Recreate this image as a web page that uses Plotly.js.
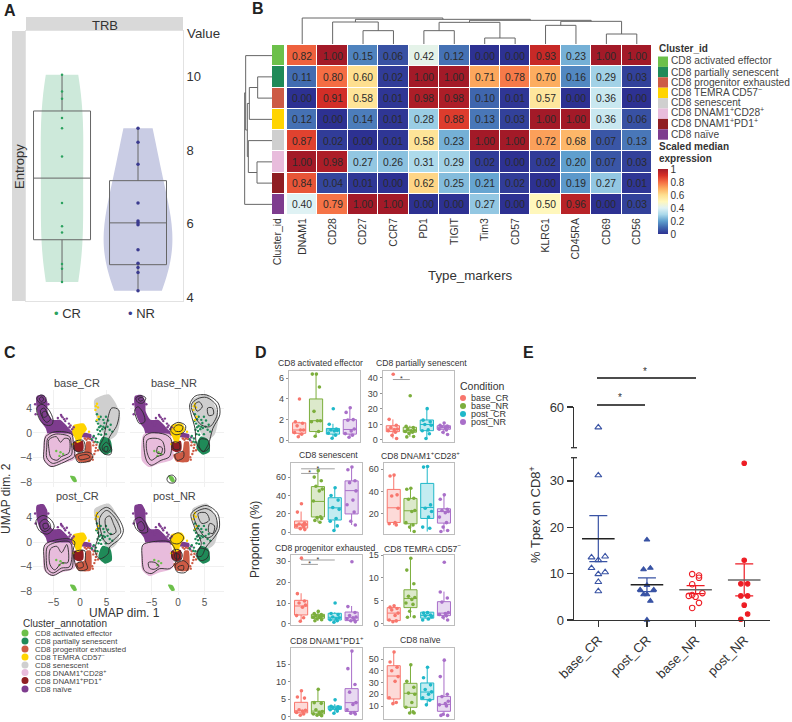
<!DOCTYPE html>
<html><head><meta charset="utf-8">
<script src="https://cdn.plot.ly/plotly-3.0.1.min.js"></script>
<style>html,body{margin:0;padding:0;background:#fff}</style></head>
<body><div id="chart" style="width:792px;height:722px"></div>
<script>
// ---------- DATA ----------
// A
const entropyCR=[10.06,9.6,9.4,8.88,8.6,7.83,6.56,5.93,5.76,4.9,4.77,4.41];
const entropyNR=[8.6,8.22,7.62,6.56,6.07,6.02,5.97,5.29,4.92,4.8,4.67,4.17];
const boxCR=[4.41,5.56,7.24,9.07,10.06];
const boxNR=[4.17,4.88,6.02,7.17,8.6];
// B
const markers=['DNAM1','CD28','CD27','CCR7','PD1','TIGIT','Tim3','CD57','KLRG1','CD45RA','CD69','CD56'];
const clusters=['CD8 activated effector','CD8 partially senescent','CD8 progenitor exhausted','CD8 TEMRA CD57<sup>−</sup>','CD8 senescent','CD8 DNAM1<sup>+</sup>CD28<sup>+</sup>','CD8 DNAM1<sup>+</sup>PD1<sup>+</sup>','CD8 naïve'];
const clusterColors=['#6cc04a','#1f8a58','#cd5b45','#ffd400','#cfcfcf','#e8bcdc','#8f1d22','#7e3c8e'];
const expr=[
[.82,1.00,.15,.06,.42,.12,.00,.00,.93,.23,1.00,1.00],
[.11,.80,.60,.02,1.00,1.00,.71,.78,.70,.16,.29,.03],
[.00,.91,.58,.01,.98,.98,.10,.01,.57,.00,.36,.00],
[.12,.00,.14,.01,.28,.88,.13,.03,1.00,1.00,.36,.06],
[.87,.02,.00,.01,.58,.23,1.00,1.00,.72,.68,.07,.13],
[1.00,.98,.27,.26,.31,.29,.02,.00,.02,.20,.07,.03],
[.84,.04,.01,.00,.62,.25,.21,.02,.00,.19,.27,.01],
[.40,.79,1.00,1.00,.00,.00,.27,.00,.50,.96,.00,.03]];
// merges: [posA,heightA,posB,heightB,topHeight]
const colMerges=[[6,0,7,0,18],[2,0,3,0,40],[1,0,2.5,40,66],[4,0,5,0,40],[4.5,40,6.5,18,65],[8,0,9,0,56],[10,0,11,0,30],[8.5,56,10.5,30,68],[5.5,65,9.5,68,71],[1.75,66,7.5,71,74],[0,0,4.625,74,78]];
const rowMerges=[[1,0,2,0,43],[5,0,6,0,45],[1.5,43,3,0,68],[4,0,5.5,45,71],[2.25,68,4.75,71,74],[0,0,3.5,74,79],[1.75,79,7,0,82]];
// C shared cluster regions, UMAP units
const regionNaive=[-8.2,5.9,-6.9,6.1,-6.2,5.1,-6.1,3.4,-5.2,2.1,-3.8,2.1,-2.7,1.3,-1.7,.4,2.1,-.2,2.1,-.8,-.9,-.5,-3.5,-.1,-6,-.3,-6.5,.75,-7.4,1.8,-8.1,3.4];
const regionPink=[-6.5,-.2,-3.5,-.1,-1.6,-.2,-1,-1.7,-1,-4.2,-3.8,-5,-5.4,-5.5,-6.8,-4.5,-7,-2.5];
const regionGrey=[2.7,5.3,5.4,6.2,6.9,4.5,7.6,2.4,6.9,-.3,5.3,-1.2,3.9,.75,3,2.9];
const regionPartial=[4.3,-.6,5.7,-1.1,6,-3,4.75,-3.5,3.5,-2.5,3.8,-1.2];
const regionProg=[-.9,-3.5,.8,-3,1.2,-1.4,2,-1.4,2.2,-3,2,-4.6,-.3,-4.6];
const regionPD1=[-1.2,-1.5,.5,-1.3,.6,-2.8,-.3,-3.1,-1.2,-2.7];
const regionTemra=[-1.3,1.2,.7,1.5,1.3,.6,.5,-.3,.1,-1.4,-.6,-1.6,-1,-.8,-1.5,.2];
const regionActivated=[-1.9,-6.9,-1,-7,-.6,-7.8,-1.2,-7.9];
const cellsNaive=[-3.5,2.7,-3,2.2,-2.5,2.3,-2.1,1.5,-3.9,1.6,-4.5,1.2,-2,.9,-1.5,.6,-4.8,1.7,2.5,-.7,2.3,-1.2,-3.3,2.5,-2.8,1.9,-3.6,2.9,-1.8,1.2,-4.2,2.4,-8.5,4.6,-8.4,3,-6,4.6,-1.2,.9];
const cellsProg=[1.5,-.9,2.6,-1.5,3.1,-1.9,3.4,-2.8,2.7,-3.4,3,-2.4,2.3,-3.9,1.9,-1,2.5,-2,2.9,-2.9,.9,-.9,2.4,-4.3,1.2,-1.1];
const cellsPartial=[3.2,3,3.6,2.2,4.6,1.6,5.3,2,4.9,2.6,3.3,.5,2.6,-.5,2.2,-1,2.9,-1.4,5.8,1.3,6.1,.2,3.9,1.1,4.4,1,3.4,1.5,3.6,.9,3.8,.3,4.2,.6,4.7,.8,5.2,1,3.5,-.2,3,-.9,3.3,-1.5,4,-.3,4.9,-.2,3.1,1.9,3.9,2.6,5.6,.5,4.4,2.1];
const cellsTemra=[3,4.3,3.4,4.1,2.9,3.7,3.5,2.6,3.2,2.1,-1.3,-1.8,1.7,.2,3.2,4.7];
const cellsActivated=[-3.7,-3.1,-3.2,-3.4,-3.9,-3.7,-4.5,-2.9];
const contoursBaseCR=[
[-8.2,5.6,-7.4,6.1,-6.5,5.7,-6.6,4.95,-7.6,4.8],[-7.7,5.5,-7.2,5.8,-6.9,5.4,-7.3,5],
[-8.2,4,-7.2,4.6,-5.9,3.7,-5.1,2.1,-5.4,1.3,-6.6,1.3,-7.6,2.1],[-7.5,3.6,-6.8,4,-6.1,3,-5.6,2.2,-6.3,1.7,-7,2.3],[-7.2,3.2,-6.5,3.5,-6.2,2.8,-6.9,2.5],
[-6.5,-.6,-4.7,.2,-1.6,-.2,-1.3,-1.4,-1.1,-3.8,-2.3,-4.4,-3.5,-4.9,-5.5,-5.4,-6.8,-4.3,-6.8,-2.5],
[-6.1,-.9,-4.7,-.2,-2,-.6,-1.7,-1.5,-1.6,-3.5,-3,-4.2,-5.2,-4.9,-6.3,-4,-6.3,-2.3],
[-5.9,-1.1,-4.5,-.6,-3.7,-1.5,-3,-.9,-2.1,-1,-2.1,-3.2,-3.5,-3.8,-4.4,-4.4,-5.5,-4,-5.9,-2.5],
[-1.2,-1.5,.6,-1.2,.9,-2.7,-.2,-3.1,-1.2,-2.6],[-.8,-3.6,1.5,-3.1,2.4,-3.6,2,-4.4,-.4,-4.7],[-.3,-3.8,1.3,-3.5,1.9,-3.9,0,-4.3],
[6,4,7.3,3.7,7,1.3,5.4,-1.1,6,-2.7,5.7,-3.5,4.4,-3.3,3.7,-2.2,4.4,-.9,5.1,1.8],[5,-1.5,5.8,-2.5,5.2,-3.1,4.4,-2.9,4.2,-2.2],[4.6,-2.3,5.2,-2.2,5.2,-2.9,4.6,-2.9]];
const contoursBaseNR=[
[-8,5.6,-7,6,-6.1,5.6,-6.7,4.8,-7.6,4.9],[-7.5,5.5,-6.8,5.7,-6.5,5.4,-7.2,5.1],
[-8.2,3.7,-7.6,4.2,-6.6,3.2,-6.3,1.8,-7.3,1.5,-7.9,2.4],
[-6.4,-.6,-5.1,0,-2.3,-.3,-1.3,-1.1,-1.6,-3.8,-3.2,-4.4,-5.1,-5.2,-6,-4.4,-6.5,-1.9],
[-5.8,-1.1,-3.9,-.9,-2.9,-1.4,-2.6,-3.3,-3.9,-3.8,-5.1,-4.4,-5.9,-3],[-3.8,-2.2,-3,-2.4,-3.2,-3.3,-4,-3.2],
[-1.3,1,0,1.7,1.4,1.2,1.2,.2,-.4,-.3,-1.3,.2],[-.8,.8,0,1.3,.9,1,.6,.3,-.5,.3],
[-.9,-1.5,.2,-1.6,.3,-2.6,-.8,-2.6],[-.6,-3.5,1,-3,1,-4,-.2,-4.4],
[2.2,4.5,3.2,5.9,5.4,6.1,7.6,4.8,7.9,2.9,6.6,.75,5.7,-1.9,4.7,-3,3.5,-1.7,3.2,.75,2.5,2.9],
[2.5,4.5,3.7,5.5,5.4,5.7,7.2,4.5,7.4,2.9,6,1,4.4,1.3,3.2,2.6],[5.6,4,6.5,4,6.7,3,5.8,2.8],[3.2,4.6,4,5,4.6,4.2,3.6,3.5],[4.2,-1,5.7,-1.2,5.9,-2.4,4.8,-3,4,-2.2],
[-1.9,-7,-1,-6.8,-.4,-7.4,-.7,-8,-1.7,-8,-2.1,-7.5]];
const contoursPostCR=[
[-8.3,3.5,-7,4.3,-5.4,3.5,-4.9,2.4,-6.1,1.3,-7.4,1.6,-8.1,2.4],[-7.6,3.1,-6.6,3.7,-5.7,3,-5.6,2.3,-6.6,1.7,-7.4,2.1],[-7,2.9,-6.2,3,-6,2.4,-6.8,2.1],
[-6.7,-.5,-4.8,.3,-2,.5,-1,0,-1.3,-1.3,-1.6,-4.3,-3.2,-4.6,-5.1,-5.4,-6.4,-4.8,-6.8,-2.7],
[-6.2,-.8,-4.8,-.1,-2.2,.1,-1.6,-.5,-2,-4,-3.5,-4.2,-5.1,-5,-6.1,-4.4,-6.4,-2.5],
[-5.6,-1.1,-4.4,-.7,-3.5,-1.7,-2.5,-.4,-2.3,-3.3,-3.5,-3.4,-4.8,-4.5,-5.7,-3.6],
[-1,-1.6,.9,-1.4,1,-3,1.4,-4.3,-.2,-4.6,-1,-3.3],[-.6,-3.5,.4,-3.2,.6,-4,-.3,-4.2],
[3.1,4.3,5,5.6,6.9,4.3,8.2,1.9,7.5,.5,5.6,-.8,5.3,-1.9,3.7,-2.7,2.8,-1.3,3.5,1.1],
[3.7,3.8,5,5.1,6.7,3.8,7.7,1.6,6.9,.8,5.3,-.3,4.4,.5],[4.8,3.8,5.6,4.2,6.3,3,6.8,1.6,5.8,1.2,5,2]];
const contoursPostNR=[
[-8.3,3.5,-7.2,4,-6.1,3,-5.8,1.6,-7,1.5,-8,2.2],[-7.6,3,-6.9,3.3,-6.3,2.3,-6.8,1.8,-7.6,2.2],
[-6.7,-.5,-5.1,0,-1.6,0,-.4,-1.6,-.4,-3.2,-1.6,-4.3,-3.5,-4.3,-5.1,-5.1,-6.4,-4.6,-6.8,-2.4],[-5.6,-3.3,-4.4,-3.3,-3.6,-3.9,-4.5,-4.4,-5.4,-4.2],
[-1.3,.8,0,1.5,1,.9,.9,.3,0,-.3,-1.3,0],
[-1.2,-1.5,0,-1.2,.8,-2,.4,-3,-.8,-3],[-.6,-1.9,.2,-2,.2,-2.7,-.5,-2.7],
[-.5,-3.7,1,-3,2,-3.8,1.4,-4.9,-.2,-4.8],[0,-4,1,-3.8,1,-4.5,.1,-4.4],
[2.5,4.6,5.3,5.9,7.5,4.6,7.8,2.2,6.9,.8,5.3,-.8,4.4,-2.3,3.4,-2.2,4.4,-.3,3.1,2.4],
[3,4.5,5.3,5.4,7,4.4,7.4,2.4,6.3,.9,5.3,.7,3.8,2.3],[3.8,4.6,5.3,4.7,5.9,3.5,4.5,3],[6,3,6.9,2.6,6.6,1.4,5.8,1.6],[4,-1,5.8,-1.5,5.5,-2.6,4.3,-3,3.6,-2]];
// D  each group: [low, q1, median, q3, high]
const conditions=['base_CR','base_NR','post_CR','post_NR'];
const condColors=['#f8766d','#7cae3c','#1fb8c9','#a96fc9'];
const boxActivated=[[.3,.68,1,1.7,1.8],[.4,.85,1.9,4,6.4],[.2,.6,1,1.15,1.6],[.25,.6,1.05,2,3.2]];
const ptsActivated=[[4,1.8,1.65,1.4,1,1,.75,.6,.35],[6.4,6.4,5.15,2.8,1.9,1.9,1.8,.85,.4],[3.05,1.55,1.1,1,.95,.9,.7,.5,.2],[3.15,2.7,2,1.95,1.1,.9,.65,.5,.3]];
const boxPartial=[[1,5.4,7.1,9.2,13.3],[2.1,5,6,8.2,9.2],[1,6,10,12.9,20.4],[3.7,6.9,8.2,9.2,11.4]];
const ptsPartial=[[42.4,13.3,9.5,8,7.1,6.5,6,5,3,1],[28.5,8.8,8,7,6.3,6,5.5,5,4.2,2.2,2],[20.2,12.8,11.7,10,9.5,6.5,6,4,1],[11,9.5,9,8.5,8.2,8,7,6.5,5,3.5]];
const boxSenescent=[[2.4,4.6,8.6,12.3,22.6],[10.8,16.7,33.6,49.7,68.4],[1.7,13.4,26.6,37.6,49],[8,20,45.3,55.9,71]];
const ptsSenescent=[[31,22,10,9,8.5,8,7,6,4,3],[67,60,56,50,47,45,34,17,16,15,13,11],[48.5,40,35,27,25,15,12,7,2],[71,68,56,54,45,35,30,22,12,8]];
const boxCD28=[[9.8,12.2,25.4,41.9,54.8],[3.8,11,22.7,33.8,43.4],[4,15.8,25.7,47.3,62.3],[4,11.6,22,24.5,37.7]];
const ptsCD28=[[54.8,54,37,36,25,12,11,10],[43,42,34,33,23,22,12,10,8,4],[62.5,62,28,25,22,17,8,7],[37,33,24,23,22,21,17,12,8,5,4]];
const boxProg=[[1.3,4.3,8.6,11.3,14.7],[1.4,2.7,3.8,4.6,6.4],[.6,1.9,3.2,5.1,5.6],[.8,1.6,3,5.7,8.6]];
const ptsProg=[[31.5,14.5,11,10,9,8,4,3,1.3],[6,5,4.5,4,3.8,3.5,3.2,3,2.5,2,1.5],[10,5,4.5,3.3,3,2.5,2,1.5,.8],[29.8,8.3,5.5,4,3.3,3,2.5,2,1.5,1]];
const boxTemra=[[.3,.66,2.3,3.5,4.1],[1.4,3.5,5.5,7.4,14.3],[.7,1.2,1.8,2.5,2.6],[.8,1.75,2.3,4.8,7]];
const ptsTemra=[[3.9,3.6,3.3,3,2.3,1.8,.8,.6,.4],[14.3,11.7,8.7,6,5.7,5.3,4.5,4.2,2.7,1.5,1.4],[2.4,2.3,1.9,1.7,1.5,1,.8],[13.4,6.9,5.6,4.7,2.4,2.2,2,1.7,1.4,.8]];
const boxPD1=[[.3,1.1,1.7,4.1,7.6],[.3,.8,1.6,4.3,7.9],[1,2.1,2.7,3,3.6],[.7,1.5,4,8,18.7]];
const ptsPD1=[[7.4,5.6,5.3,2,1.8,1.6,1.2,.8,.4],[7.8,4,3.8,2,1.5,1.2,.8,.6,.4,.3],[4.8,3,2.8,2.6,2.4,2.2,2,1.6,1],[18.7,13.7,9.2,7,4,3.5,2,1.2,1,.8]];
const boxNaive=[[11.7,16,35.5,44.3,57],[3.2,8.9,20.8,29.3,45.7],[10.9,15.4,21.9,29.6,43.5],[1.8,5.5,11.4,18.2,49]];
const ptsNaive=[[56,47.5,43,40,35,31,17,13,12],[45,31,26,21,20,13,9,5,4,4],[43,34,28,24,22,20,17,15,11],[49,35,20,18,14,12,11,10,3,2,2]];
const jitterOffsets=[.02,-.22,.2,-.12,.26,.08,-.27,.15,-.05,.22,-.18,.12];
// E
const groupsE=['base_CR','post_CR','base_NR','post_NR'];
const baseCRx=[0,0,-.14,.14,0,-.14,.14,0,0,0];
const baseCRy=[48,31.2,13.5,13.7,12.9,11.2,10.3,9.9,8.2,6.2];
const postCRx=[1,1.07,.93,1,.86,1.14,.93,1,1.07,1];
const postCRy=[17.3,11.2,10.9,7.5,6.5,6.5,5.5,5.5,4.1,0];
const baseNRx=[1.93,2.07,2.07,1.93,1.86,1.93,2.14,2,2.07,1.93];
const baseNRy=[9.9,9.6,9.1,7.7,5.2,5.4,5.8,5,3.7,2.6];
const postNRx=[3,3,2.93,3.07,2.93,3.07,3,3.07,2.93];
const postNRy=[33.8,12.9,7.8,7.8,5.2,5.2,3.2,1.3,.15];
const meanE=[17.5,7.6,6.5,8.6];
const errHiE=[22.5,9.1,7.4,12.1];
const errLoE=[12.6,6.1,5.7,5.2];

// ---------- BUILD ----------
const FONT='"Liberation Sans",Arial,sans-serif';
const W=792,H=722;
const fx=p=>p/W, fy=p=>1-p/H;
const data=[];
const annotations=[],shapes=[];
const layout={width:W,height:H,autosize:false,margin:{l:0,r:0,t:0,b:0,pad:0},paper_bgcolor:'#fff',plot_bgcolor:'rgba(0,0,0,0)',showlegend:false,hovermode:false,boxmode:'overlay',violinmode:'overlay',font:{family:FONT,color:'#333'},annotations,shapes};
let axN=0;
function mk(xd,yd,xo,yo){axN++;const s=axN===1?'':axN;
 const base={showgrid:false,zeroline:false,showticklabels:false,ticks:'',automargin:false};
 layout['xaxis'+s]=Object.assign({},base,{domain:[xd[0]/W,xd[1]/W],anchor:'y'+s},xo);
 layout['yaxis'+s]=Object.assign({},base,{domain:[1-yd[1]/H,1-yd[0]/H],anchor:'x'+s},yo);
 return ['x'+s,'y'+s];}
function ann(text,x,y,size,o){annotations.push(Object.assign({text,x:fx(x),y:fy(y),xref:'paper',yref:'paper',showarrow:false,xanchor:'left',yanchor:'middle',font:{size,color:'#333',family:FONT},borderpad:0},o||{}));}
function rect(x0,y0,x1,y1,color){shapes.push({type:'rect',xref:'paper',yref:'paper',x0:fx(x0),x1:fx(x1),y0:fy(y0),y1:fy(y1),fillcolor:color,line:{width:0},layer:'below'});}
function dot(x,y,r,color){shapes.push({type:'circle',xref:'paper',yref:'paper',x0:fx(x-r),x1:fx(x+r),y0:fy(y-r),y1:fy(y+r),fillcolor:color,line:{width:0}});}
function hline(x0,x1,y,w,color){shapes.push({type:'line',xref:'paper',yref:'paper',x0:fx(x0),x1:fx(x1),y0:fy(y),y1:fy(y),line:{width:w,color}});}
const xs=a=>a.filter((_,i)=>i%2===0), ys=a=>a.filter((_,i)=>i%2===1);
const closed=a=>a.concat(a.slice(0,2));

// Panel letters
[['A',10,11],['B',258,9],['C',10,352],['D',261,352],['E',528,352]].forEach(l=>ann('<b>'+l[0]+'</b>',l[1],l[2],16,{xanchor:'center',font:{size:16,color:'#222',family:FONT}}));

// --- A
rect(26,17,183,31,'#d9d9d9');rect(12,31,26,301,'#d9d9d9');
ann('TRB',105,25,13,{xanchor:'center'});
ann('Entropy',19,167,13,{xanchor:'center',textangle:-90});
ann('Value',186,34,13.3);
ann('<span style="color:#2ca25f">•</span> CR',53,313,13);
ann('<span style="color:#3b3b8f">•</span> NR',127,313,13);
(function(){const [xa,ya]=mk([26,183],[31,301],{range:[-.474,1.592],showline:true,mirror:true,linecolor:'#e2e2e2',linewidth:1},{range:[3.89,11.25],side:'right',tickvals:[4,6,8,10],showticklabels:true,tickfont:{size:13,color:'#333'},ticklen:0,showline:true,mirror:true,linecolor:'#e2e2e2',linewidth:1});
 const v=(y,x,c,w,bw)=>({type:'violin',x:y.map(()=>x),y,xaxis:xa,yaxis:ya,spanmode:'hard',bandwidth:bw,width:w,scalemode:'width',fillcolor:c,line:{width:0,color:c},points:false,box:{visible:false},meanline:{visible:false},hoverinfo:'skip'});
 data.push(v(entropyCR,0,'#cde9da',.56,1.6),v(entropyNR,1,'#c9cce4',.9,1.25));
 const b=(s,x)=>({type:'box',x:[x],q1:[s[1]],median:[s[2]],q3:[s[3]],lowerfence:[s[0]],upperfence:[s[4]],xaxis:xa,yaxis:ya,width:.75,whiskerwidth:0,fillcolor:'rgba(0,0,0,0)',line:{color:'#666',width:1},boxpoints:false});
 data.push(b(boxCR,0),b(boxNR,1));
 data.push({type:'scatter',mode:'markers',x:entropyCR.map(()=>0),y:entropyCR,xaxis:xa,yaxis:ya,marker:{size:2.5,color:'#2ca25f'}});
 data.push({type:'scatter',mode:'markers',x:entropyNR.map(()=>1),y:entropyNR,xaxis:xa,yaxis:ya,marker:{size:3.5,color:'#3b3b8f'}});
})();

// --- B
const rows=expr.map((_,i)=>i), cols=markers.map((_,i)=>i);
const cs=[[0,'#2d3192'],[.1,'#3f66ae'],[.2,'#5f9fce'],[.3,'#a9d8ea'],[.4,'#dff2f4'],[.5,'#fff7bc'],[.6,'#fedf8f'],[.7,'#fdad60'],[.8,'#f46d43'],[.9,'#d73027'],[1,'#a31a28']];
(function(){const [xa,ya]=mk([287,652],[45,215],{range:[-.5,11.5],tickvals:cols,ticktext:markers,showticklabels:true,tickangle:-90,tickfont:{size:10.5,color:'#333'},ticklen:0},{range:[7.5,-.5]});
 data.push({type:'heatmap',z:expr,x:cols,y:rows,xaxis:xa,yaxis:ya,colorscale:cs,zmin:0,zmax:1,xgap:1,ygap:1,text:expr.map(r=>r.map(v=>v.toFixed(2))),texttemplate:'%{text}',textfont:{size:10.3,color:'#2a2a2a',family:FONT},
  colorbar:{x:fx(658),xanchor:'left',y:fy(234),yanchor:'bottom',len:65,lenmode:'pixels',thickness:10,thicknessmode:'pixels',xpad:0,ypad:0,outlinewidth:0,borderwidth:0,tickvals:[0,.2,.4,.6,.8,1],ticktext:['0','0.2','0.4','0.6','0.8','1'],ticks:'',ticklen:0,tickfont:{size:10,color:'#333',family:FONT}}});
 const [xb,yb]=mk([272,284],[45,215],{range:[-.5,.5],tickvals:[0],ticktext:['Cluster_id'],showticklabels:true,tickangle:-90,tickfont:{size:10.5,color:'#333'},ticklen:0},{range:[7.5,-.5]});
 const step=clusterColors.flatMap((c,i)=>[[i/8,c],[(i+1)/8,c]]);
 data.push({type:'heatmap',z:rows.map(i=>[i]),x:[0],y:rows,xaxis:xb,yaxis:yb,colorscale:step,zmin:-.5,zmax:7.5,showscale:false,ygap:1});
 const [xt,yt]=mk([287,652],[8,44],{range:[-.5,11.5]},{range:[0,108]});
 let dx=[],dy=[];colMerges.forEach(m=>{dx.push(m[0],m[0],m[2],m[2],null);dy.push(m[1],m[4],m[4],m[3],null);});
 data.push({type:'scatter',mode:'lines',x:dx,y:dy,xaxis:xt,yaxis:yt,line:{color:'#666',width:1},cliponaxis:false});
 const [xl,yl]=mk([242,272],[45,215],{range:[90,0]},{range:[7.5,-.5]});
 let lx=[],ly=[];rowMerges.forEach(m=>{ly.push(m[0],m[0],m[2],m[2],null);lx.push(m[1],m[4],m[4],m[3],null);});
 data.push({type:'scatter',mode:'lines',x:lx,y:ly,xaxis:xl,yaxis:yl,line:{color:'#666',width:1},cliponaxis:false});
})();
ann('Type_markers',470,275,13.3,{xanchor:'center'});
ann('<b>Cluster_id</b>',658,48,10);
const legY=[61,72,82,92,103,112,123,134];
clusterColors.forEach((c,i)=>{rect(658,56.5+i*10.4,668,56.5+(i+1)*10.4,c);ann(clusters[i],670,legY[i],10.2,{font:{size:10.2,color:'#444',family:FONT}});});
ann('<b>Scaled median</b>',658,146,10);ann('<b>expression</b>',658,158,10);

// --- C
const regions=[[regionNaive,7],[regionPink,5],[regionGrey,4],[regionProg,2],[regionPartial,1],[regionPD1,6],[regionTemra,3],[regionActivated,0]];
const cells=[[cellsNaive,7],[cellsProg,2],[cellsPartial,1],[cellsTemra,3],[cellsActivated,0]];
function umap(xd,yd,xr,yr,contours,showX,showY,title,tx,ty){
 const g='#f0f0f0';
 const [xa,ya]=mk(xd,yd,{range:xr,tickvals:[-5,0,5],showgrid:true,gridcolor:g,showticklabels:showX,tickfont:{size:10,color:'#555'}},{range:yr,tickvals:[-8,-4,0,4],showgrid:true,gridcolor:g,showticklabels:showY,tickfont:{size:10.5,color:'#555'}});
 regions.forEach(r=>{const p=closed(r[0]);data.push({type:'scatter',mode:'lines',x:xs(p),y:ys(p),xaxis:xa,yaxis:ya,fill:'toself',fillcolor:clusterColors[r[1]],line:{width:0,shape:'spline',smoothing:.7,color:clusterColors[r[1]]}});});
 cells.forEach(r=>data.push({type:'scatter',mode:'markers',x:xs(r[0]),y:ys(r[0]),xaxis:xa,yaxis:ya,marker:{size:2.4,color:clusterColors[r[1]]}}));
 contours.forEach(c=>{const p=closed(c);data.push({type:'scatter',mode:'lines',x:xs(p),y:ys(p),xaxis:xa,yaxis:ya,line:{color:'#2a2a2a',width:.9,shape:'spline',smoothing:.9}});});
 ann(title,tx,ty,11,{xanchor:'center',font:{size:11,color:'#444',family:FONT}});
}
umap([33,125],[390,487],[-8.9,8.5],[-8.7,6.9],contoursBaseCR,false,true,'base_CR',77,383);
umap([130,224],[390,487],[-9.1,8.7],[-8.7,6.9],contoursBaseNR,false,false,'base_NR',174,383);
umap([33,125],[503,595],[-8.9,8.5],[-8.55,6.3],contoursPostCR,true,true,'post_CR',77,496);
umap([130,224],[503,595],[-9.1,8.7],[-8.55,6.3],contoursPostNR,true,false,'post_NR',174,496);
ann('UMAP dim. 1',124,613,12,{xanchor:'center'});
ann('UMAP dim. 2',6,499,12,{xanchor:'center',textangle:-90});
ann('Cluster_annotation',22,623,10);
const legCY=[633,641,649,657,665,672.5,680.5,689];
clusterColors.forEach((c,i)=>{dot(25,legCY[i],3.5,c);ann(clusters[i],34,legCY[i],7.8,{font:{size:7.8,color:'#444',family:FONT}});});

// --- D
function boxPanel(title,tx,ty,xd,yd,yr,ticks,bx,pts,brackets){
 const [xa,ya]=mk(xd,yd,{range:[.4,4.6],showline:true,mirror:true,linecolor:'#bdbdbd',linewidth:1.2},{range:yr,tickvals:ticks,showticklabels:true,ticks:'outside',ticklen:2,tickwidth:.8,tickcolor:'#777',tickfont:{size:9,color:'#444'},showline:true,mirror:true,linecolor:'#bdbdbd',linewidth:1.2});
 bx.forEach((s,i)=>{const c=condColors[i];
  data.push({type:'box',x:[i+1],lowerfence:[s[0]],q1:[s[1]],median:[s[2]],q3:[s[3]],upperfence:[s[4]],xaxis:xa,yaxis:ya,width:.78,whiskerwidth:0,line:{color:c,width:1},fillcolor:c+'44',boxpoints:false});
  data.push({type:'scatter',mode:'markers',x:pts[i].map((_,k)=>i+1+jitterOffsets[k%jitterOffsets.length]),y:pts[i],xaxis:xa,yaxis:ya,marker:{size:3.6,color:c},cliponaxis:false});});
 (brackets||[]).forEach(b=>{
  data.push({type:'scatter',mode:'lines',x:[b[0],b[1]],y:[b[2],b[2]],xaxis:xa,yaxis:ya,line:{color:'#777',width:.7}});
  data.push({type:'scatter',mode:'text',x:[(b[0]+b[1])/2],y:[b[2]],text:['*'],textposition:'middle center',textfont:{size:7,color:'#333'},xaxis:xa,yaxis:ya});});
 ann(title,tx,ty,8.6,{xanchor:'center',font:{size:8.6,color:'#333',family:FONT}});
}
boxPanel('CD8 activated effector',320,363,[289,360],[371,442],[-.16,6.7],[0,2,4,6],boxActivated,ptsActivated);
boxPanel('CD8 partially senescent',421,363,[382.7,454],[371,442],[-1.3,44.5],[0,10,20,30,40],boxPartial,ptsPartial,[[1,2,39]]);
boxPanel('CD8 senescent',328,455,[291,361.7],[463.3,534],[-1.8,75],[0,20,40,60],boxSenescent,ptsSenescent,[[1,3,69],[1,2,64]]);
boxPanel('CD8 DNAM1<sup>+</sup>CD28<sup>+</sup>',420,455,[383.7,454],[463.3,534],[1.8,65.4],[20,40,60],boxCD28,ptsCD28);
boxPanel('CD8 progenitor exhausted',325,548,[291,361.7],[555,625],[-.5,33],[0,10,20,30],boxProg,ptsProg,[[1,3,30.6],[1,2,28.5]]);
boxPanel('CD8 TEMRA CD57<sup>−</sup>',422,548,[383.7,454],[555,625],[-.3,15],[0,5,10,15],boxTemra,ptsTemra);
boxPanel('CD8 DNAM1<sup>+</sup>PD1<sup>+</sup>',327,640,[291,361.7],[648.3,718.7],[-.57,19.5],[0,5,10,15],boxPD1,ptsPD1);
boxPanel('CD8 naïve',420,640,[383.7,454],[648.3,718.7],[-.8,59.1],[10,20,30,40,50],boxNaive,ptsNaive);
ann('Proportion (%)',255,540,12,{xanchor:'center',textangle:-90});
ann('Condition',459,386,10.5);
[398,406,414,422].forEach((y,i)=>{dot(463,y,3,condColors[i]);ann(conditions[i],470,y,9);});

// --- E
(function(){const ax={color:'#333',linecolor:'#333',linewidth:1.3,showline:true,ticks:'outside',ticklen:6,tickwidth:1.3,tickcolor:'#333',showticklabels:true,tickfont:{size:13,color:'#333'}};
 const [xa,ya]=mk([574,770],[457.7,620],Object.assign({},ax,{range:[-.5,3.53],tickvals:[0,1,2,3],ticktext:groupsE,tickangle:-45}),Object.assign({},ax,{range:[0,35],tickvals:[0,10,20,30]}));
 axN++;const s=axN;layout['yaxis'+s]=Object.assign({},ax,{domain:[1-447.7/H,1-407/H],anchor:xa,range:[36,60],tickvals:[60],zeroline:false,showgrid:false});
 const yb='y'+s;
 const blue='#3953a4',red='#ed1c24';
 const m=(x,y,sym,c,sz,yy)=>data.push({type:'scatter',mode:'markers',x,y,xaxis:xa,yaxis:yy||ya,cliponaxis:false,marker:{symbol:sym,size:sz,color:c,line:{color:c,width:1.1}}});
 m(baseCRx.slice(0,1),baseCRy.slice(0,1),'triangle-up-open',blue,6,yb);
 m(baseCRx.slice(1),baseCRy.slice(1),'triangle-up-open',blue,6);
 m(postCRx,postCRy,'triangle-up',blue,5);
 m(baseNRx,baseNRy,'circle-open',red,5.5);
 m(postNRx,postNRy,'circle',red,4.5);
 const lineC=['#222','#222','#666','#666'],errC=[blue,blue,red,red];
 meanE.forEach((v,i)=>{
  data.push({type:'scatter',mode:'markers',x:[i],y:[v],xaxis:xa,yaxis:ya,marker:{size:1,color:errC[i]},error_y:{type:'data',symmetric:false,array:[errHiE[i]-v],arrayminus:[v-errLoE[i]],color:errC[i],thickness:1.2,width:9}});
  data.push({type:'scatter',mode:'lines',x:[i-.335,i+.335],y:[v,v],xaxis:xa,yaxis:ya,line:{color:lineC[i],width:1.5}});
 });
})();
hline(571,577,457.7,1.3,'#333');hline(571,577,447.7,1.3,'#333');
hline(597,696,378,1.7,'#111');hline(597,645,405,1.7,'#111');
ann('*',645,371,10,{xanchor:'center'});ann('*',620,398,10,{xanchor:'center'});
ann('% Tpex on CD8<sup>+</sup>',535,515,13,{xanchor:'center',textangle:-90});

Plotly.newPlot('chart',data,layout,{staticPlot:true,displayModeBar:false});
</script></body></html>
